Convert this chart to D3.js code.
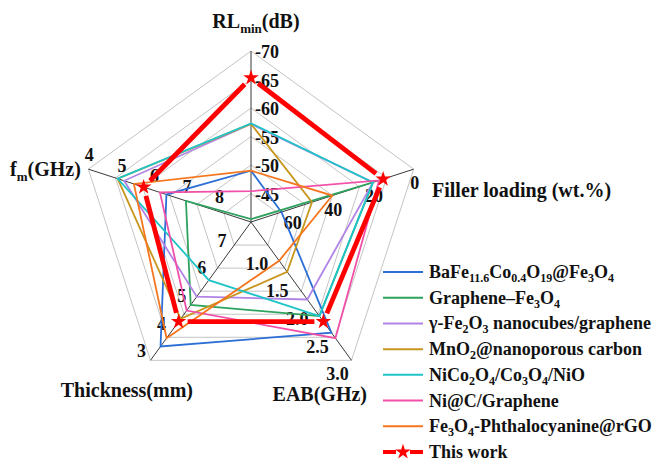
<!DOCTYPE html>
<html>
<head>
<meta charset="utf-8">
<script src="https://cdn.jsdelivr.net/npm/d3@7"></script>
<style>
  html, body { margin: 0; padding: 0; background: #fff; }
  svg { display: block; font-family: "Liberation Serif", "Times New Roman", serif; font-weight: bold; }
</style>
</head>
<body>
<svg id="chart" width="652" height="461"></svg>
<script>
// Materials compared (legend order)
const seriesNames = [
  "BaFe11.6Co0.4O19@Fe3O4",
  "Graphene–Fe3O4",
  "γ-Fe2O3 nanocubes/graphene",
  "MnO2@nanoporous carbon",
  "NiCo2O4/Co3O4/NiO",
  "Ni@C/Graphene",
  "Fe3O4-Phthalocyanine@rGO",
  "This work"
];
const seriesColors = ["#2b6fd6", "#2ea35e", "#b184e6", "#c8961c", "#1fc4c8", "#f24fa9", "#f5761f", "#ff0000"];

// Values per axis, same order as seriesNames
const rlValues        = [-49.0, -40.5, -57.2, -57.2, -57.3, -45.4, -49.0, -65.3]; // RLmin (dB)
const fillerValues    = [65, 20, 20, 50, 20, 17, 40, 15];                            // wt.%
const eabValues       = [2.5, 2.2, 1.9, 1.4, 2.2, 2.6, 1.2, 2.3];                    // GHz
const thicknessValues = [3.5, 5.0, 5.3, 4.5, 5.9, 4.8, 3.8, 4.4];                    // mm
const fmValues        = [6.4, 7.0, 5.1, 4.9, 4.9, 6.2, 5.4, 5.7];                    // GHz

// Tick labels on each spoke
const rlTicks        = [-45, -50, -55, -60, -65, -70];
const fillerTicks    = [0, 20, 40, 60];
const eabTicks       = ["1.0", "1.5", "2.0", "2.5", "3.0"];
const thicknessTicks = [3, 4, 5, 6, 7];
const fmTicks        = [4, 5, 6, 7, 8];

const svg = d3.select("#chart");
const cx = 251, cy = 222, R = 171;
const ringCount = 6;

// One radial scale per spoke (value -> distance from centre)
const axes = [
  { key: "rl",        angle: 0,   scale: d3.scaleLinear().domain([-40, -70]).range([0, R]), values: rlValues },
  { key: "filler",    angle: 72,  scale: d3.scaleLinear().domain([80, 0]).range([0, R]),    values: fillerValues },
  { key: "eab",       angle: 144, scale: d3.scaleLinear().domain([0.5, 3.0]).range([0, R]), values: eabValues },
  { key: "thickness", angle: 216, scale: d3.scaleLinear().domain([8, 3]).range([0, R]),     values: thicknessValues },
  { key: "fm",        angle: 288, scale: d3.scaleLinear().domain([9, 4]).range([0, R]),     values: fmValues }
];
const pt = (angleDeg, r) => {
  const a = angleDeg * Math.PI / 180;
  return [cx + r * Math.sin(a), cy - r * Math.cos(a)];
};

// Grid rings
const ringR = d3.range(1, ringCount + 1).map(k => R * k / ringCount);
svg.append("g").selectAll("polygon").data(ringR).join("polygon")
  .attr("points", r => axes.map(a => pt(a.angle, r).join(",")).join(" "))
  .attr("fill", "none").attr("stroke", "#c4c4c4").attr("stroke-width", 1);

// Spokes
svg.append("g").selectAll("line").data(axes).join("line")
  .attr("x1", cx).attr("y1", cy)
  .attr("x2", a => pt(a.angle, R)[0]).attr("y2", a => pt(a.angle, R)[1])
  .attr("stroke", "#3a3a3a").attr("stroke-width", 1);

// Tick labels
const tickFont = 18;
const tickGroup = svg.append("g").attr("font-size", tickFont).attr("fill", "#111");
function tickLabels(axis, ticks, dx, dy, anchor) {
  tickGroup.selectAll(null).data(ticks).join("text")
    .attr("x", d => pt(axis.angle, axis.scale(+d))[0] + dx)
    .attr("y", d => pt(axis.angle, axis.scale(+d))[1] + dy)
    .attr("text-anchor", anchor)
    .attr("dominant-baseline", "central")
    .text(d => d);
}
tickLabels(axes[0], rlTicks, 4, 1, "start");
tickLabels(axes[1], fillerTicks, 1, 14, "middle");
tickLabels(axes[2], eabTicks, -14, 14, "middle");
tickLabels(axes[3], thicknessTicks, -9, -9, "middle");
tickLabels(axes[4], fmTicks, 1, -14, "middle");

// Series polygons
const vertices = seriesNames.map((name, i) => axes.map(a => pt(a.angle, a.scale(a.values[i]))));
const lineGen = d3.line().curve(d3.curveLinearClosed);
const plot = svg.append("g");
seriesNames.forEach((name, i) => {
  if (i === seriesNames.length - 1) return;
  plot.append("path")
    .attr("d", lineGen(vertices[i]))
    .attr("fill", "none")
    .attr("stroke", seriesColors[i])
    .attr("stroke-width", 1.8)
    .attr("stroke-linejoin", "miter");
});

// "This work": thick segments with star markers
const last = seriesNames.length - 1;
const red = seriesColors[last];
const gap = 9;
const star = d3.symbol().type(d3.symbolStar).size(75);
const v = vertices[last];
v.forEach((p, k) => {
  const q = v[(k + 1) % v.length];
  const len = Math.hypot(q[0] - p[0], q[1] - p[1]);
  const ux = (q[0] - p[0]) / len, uy = (q[1] - p[1]) / len;
  plot.append("line")
    .attr("x1", p[0] + ux * gap).attr("y1", p[1] + uy * gap)
    .attr("x2", q[0] - ux * gap).attr("y2", q[1] - uy * gap)
    .attr("stroke", red).attr("stroke-width", 4.8);
});
plot.selectAll(".star").data(v).join("path")
  .attr("class", "star")
  .attr("transform", p => `translate(${p[0]},${p[1]})`)
  .attr("d", star())
  .attr("fill", red);

// Rich text with subscripts: parts are [text, isSub]
function richText(sel, parts, size, subSize, subShift) {
  parts.forEach(([t, sub], j) => {
    const prevSub = j > 0 && parts[j - 1][1];
    const ts = sel.append("tspan").text(t);
    if (sub) ts.attr("font-size", subSize).attr("dy", prevSub ? 0 : subShift);
    else ts.attr("font-size", size).attr("dy", prevSub ? -subShift : 0);
  });
}
function splitChem(str) {
  // digits and decimal points directly after a letter or ")" become subscripts
  const parts = [];
  const re = /([A-Za-z\)])(\d+(?:\.\d+)?)/g;
  let last = 0, m;
  while ((m = re.exec(str)) !== null) {
    const end = m.index + m[1].length;
    parts.push([str.slice(last, end), false]);
    parts.push([m[2], true]);
    last = re.lastIndex;
  }
  if (last < str.length) parts.push([str.slice(last), false]);
  return parts;
}

// Axis titles
const titleSize = 20;
const titles = svg.append("g").attr("fill", "#111");
richText(titles.append("text").attr("x", 256).attr("y", 28).attr("text-anchor", "middle"),
  [["RL", false], ["min", true], ["(dB)", false]], titleSize, 13, 5);
richText(titles.append("text").attr("x", 10).attr("y", 176),
  [["f", false], ["m", true], ["(GHz)", false]], titleSize, 13, 5);
titles.append("text").attr("x", 432).attr("y", 197).attr("font-size", titleSize).text("Filler loading (wt.%)");
titles.append("text").attr("x", 193).attr("y", 397).attr("text-anchor", "end").attr("font-size", titleSize).text("Thickness(mm)");
titles.append("text").attr("x", 367).attr("y", 401).attr("text-anchor", "end").attr("font-size", titleSize).text("EAB(GHz)");

// Legend
const legend = svg.append("g").attr("fill", "#111");
const legendY = d3.scalePoint().domain(d3.range(seriesNames.length)).range([272, 452]);
seriesNames.forEach((name, i) => {
  const y = legendY(i);
  if (i === last) {
    legend.append("line").attr("x1", 383).attr("x2", 396).attr("y1", y).attr("y2", y)
      .attr("stroke", red).attr("stroke-width", 4);
    legend.append("line").attr("x1", 410).attr("x2", 423).attr("y1", y).attr("y2", y)
      .attr("stroke", red).attr("stroke-width", 4);
    legend.append("path").attr("transform", `translate(403,${y})`).attr("d", star()).attr("fill", red);
  } else {
    legend.append("line").attr("x1", 383).attr("x2", 423).attr("y1", y).attr("y2", y)
      .attr("stroke", seriesColors[i]).attr("stroke-width", 2);
  }
  const t = legend.append("text").attr("x", 429).attr("y", y + 6);
  richText(t, splitChem(name), 18, 12, 4);
});
</script>
</body>
</html>
